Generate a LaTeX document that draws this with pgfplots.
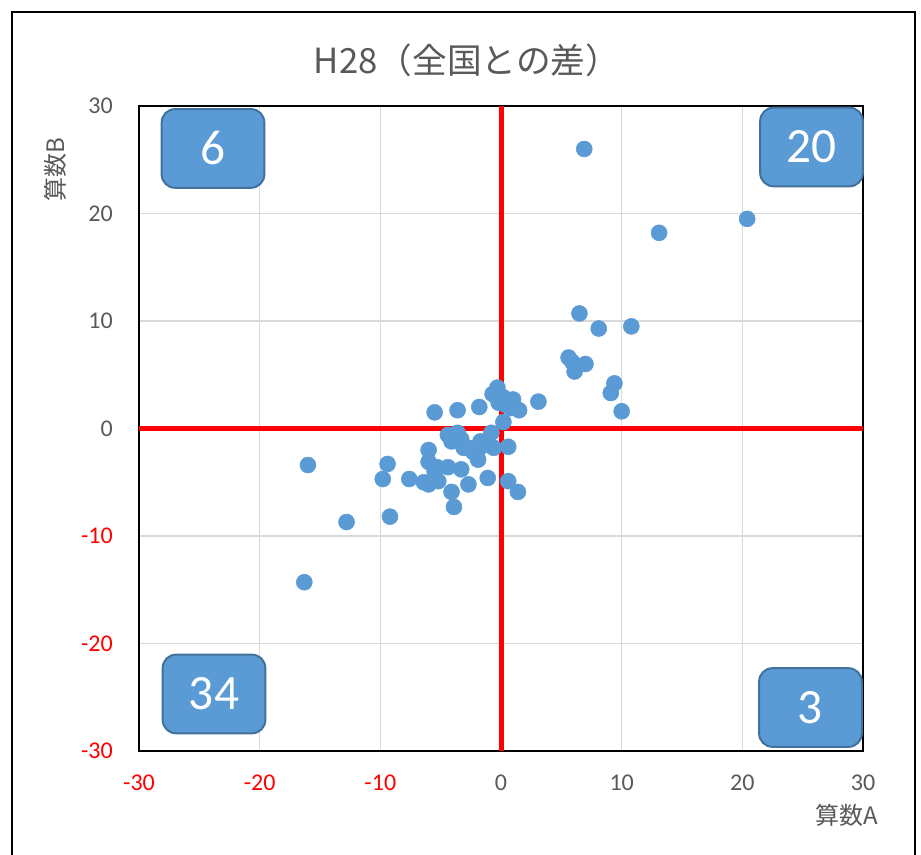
\documentclass[border=0pt]{standalone}
\usepackage{pgfplots}
\pgfplotsset{compat=1.18}
\usepackage{fontspec}
\setmainfont{Carlito}
\newfontfamily\jp{Noto Sans CJK JP}
\definecolor{dot}{HTML}{5B9BD5}
\definecolor{boxline}{HTML}{41719C}
\definecolor{txt}{HTML}{595959}
\definecolor{gridc}{HTML}{D9D9D9}

\begin{document}
\begin{tikzpicture}
\useasboundingbox (-104.25pt,-78pt) rectangle (586.5pt,563.25pt);
\draw[black, line width=1.5pt] (-95.25pt,-120pt) rectangle (582pt,554.25pt);
\begin{axis}[
    at={(0,0)}, anchor=south west,
    scale only axis, width=543pt, height=483.75pt,
    xmin=-30, xmax=30, ymin=-30, ymax=30,
    xtick={-30,-20,-10,0,10,20,30},
    ytick={-30,-20,-10,0,10,20,30},
    xticklabels={\textcolor{red}{-30},\textcolor{red}{-20},\textcolor{red}{-10},0,10,20,30},
    yticklabels={\textcolor{red}{-30},\textcolor{red}{-20},\textcolor{red}{-10},0,10,20,30},
    major tick length=0pt,
    grid=major,
    grid style={gridc, line width=1.1pt},
    axis line style={black, line width=1.5pt},
    tick label style={font=\fontsize{18}{21}\selectfont, text=txt, inner sep=0pt},
    xticklabel style={yshift=-18pt},
    yticklabel style={xshift=-19.5pt},
    clip=false,
]
% quadrant lines
\addplot[red, line width=3.75pt] coordinates {(0,-30) (0,30)};
\addplot[red, line width=3.75pt] coordinates {(-30,0) (30,0)};
% prefectures
\addplot[only marks, mark=*, mark size=6pt, mark options={fill=dot, draw=dot}] coordinates {
(6.9,26.0) (20.4,19.5) (13.1,18.2) (6.5,10.7) (8.1,9.3) (10.8,9.5)
(5.6,6.6) (5.9,6.2) (6.1,5.3) (7.0,6.0) (9.4,4.2) (9.1,3.3) (10.0,1.6)
(3.1,2.5) (1.5,1.7) (1.0,2.7) (0.2,2.9) (0.4,2.2) (0.2,0.6) (0.8,1.9)
(-5.5,1.5) (-3.6,1.7) (-1.8,2.0) (-0.3,3.8) (-0.7,3.2) (-0.2,2.4)
(0.6,-1.7) (0.6,-4.9) (1.4,-5.9)
(-4.4,-0.6) (-3.6,-0.4) (-4.1,-1.2) (-2.7,-1.8) (-1.7,-1.2) (-0.8,-0.4)
(-0.6,-1.8) (-1.9,-2.0) (-3.1,-1.8) (-6.0,-2.0) (-6.0,-3.1) (-5.5,-4.0)
(-4.4,-3.6) (-3.3,-3.8) (-1.9,-2.9) (-7.6,-4.7) (-6.4,-5.0) (-5.2,-4.9)
(-4.1,-5.9) (-3.9,-7.3) (-2.7,-5.2) (-1.1,-4.6) (-9.4,-3.3) (-9.8,-4.7)
(-9.2,-8.2) (-16.0,-3.4) (-12.8,-8.7) (-16.3,-14.3) (-6.0,-5.2) (-3.3,-1.0)
(-2.3,-2.2) (-1.2,-1.5) (-4.0,-0.9) (-5.3,-3.6)
};
\end{axis}
% quadrant counts
\tikzset{qbox/.style={draw=boxline, fill=dot, line width=1.5pt, rounded corners=10pt,
  minimum width=77pt, minimum height=59pt, text=white, font=\fontsize{37}{42}\selectfont}}
\node[qbox] at (55.5pt,451.9pt) {6};
\node[qbox] at (504.4pt,453pt) {20};
\node[qbox] at (56.25pt,42.75pt) {34};
\node[qbox] at (503.6pt,32.6pt) {3};
% titles
\node[text=txt, font=\jp\fontsize{26}{30}\selectfont] at (246pt,518.25pt) {H28（全国との差）};
\node[text=txt, font=\jp\fontsize{18}{22}\selectfont] at (531pt,-48pt) {算数A};
\node[text=txt, font=\jp\fontsize{18}{22}\selectfont, rotate=90] at (-63pt,435.75pt) {算数B};
\end{tikzpicture}
\end{document}
